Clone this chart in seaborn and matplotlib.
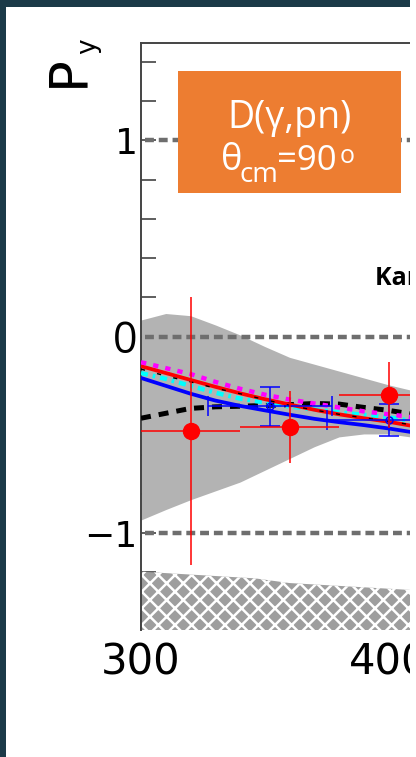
import matplotlib
matplotlib.use("Agg")
import matplotlib.pyplot as plt
from matplotlib.patches import Rectangle
from matplotlib.ticker import FixedLocator, MultipleLocator
import pandas as pd
import seaborn as sns

# ---------------------------------------------------------------- data
# photon energy grid of the model curves (MeV)
energy = [300, 310, 320, 330, 340, 350, 360, 370, 380, 390, 400, 410, 420]
model_red = [-0.15, -0.185, -0.22, -0.255, -0.288, -0.318, -0.345, -0.372, -0.395, -0.415, -0.433, -0.455, -0.475]
model_blue = [-0.21, -0.25, -0.29, -0.325, -0.352, -0.375, -0.397, -0.418, -0.435, -0.45, -0.467, -0.487, -0.505]
model_magenta = [-0.13, -0.16, -0.19, -0.23, -0.265, -0.295, -0.32, -0.34, -0.36, -0.38, -0.395, -0.41, -0.425]
model_cyan = [-0.185, -0.215, -0.25, -0.285, -0.315, -0.335, -0.355, -0.37, -0.385, -0.398, -0.41, -0.43, -0.445]
model_black = [-0.415, -0.39, -0.365, -0.357, -0.354, -0.35, -0.346, -0.34, -0.343, -0.36, -0.375, -0.395, -0.415]
model_thin = [-0.165, -0.2, -0.23, -0.262, -0.29, -0.32, -0.35, -0.373, -0.395, -0.413, -0.43, -0.45, -0.47]

# theoretical uncertainty band
band_upper = [0.085, 0.118, 0.107, 0.06, 0.009, -0.05, -0.105, -0.14, -0.175, -0.21, -0.245, -0.275, -0.30]
band_lower = [-0.933, -0.88, -0.83, -0.785, -0.74, -0.68, -0.62, -0.56, -0.51, -0.495, -0.495, -0.512, -0.53]

# systematic uncertainty (hatched, bottom)
syst_energy = [300, 346, 360, 410, 420]
syst_top = [-1.196, -1.23, -1.254, -1.29, -1.295]

# measured points
red_x = [320, 360, 400]
red_y = [-0.48, -0.46, -0.297]
red_xerr = [20, 20, 20]
red_yerr = [0.68, 0.185, 0.17]

blue_x = [352, 400]
blue_y = [-0.355, -0.423]
blue_xerr = [25, 25]
blue_yerr = [0.10, 0.08]

ref_levels = [1, 0, -1]
ytick_vals = [-1, 0, 1]
ytick_labels = ["\u22121", "0", "1"]
xtick_vals = [300, 400]
xtick_labels = ["300", "400"]

# ---------------------------------------------------------------- figure
W, H = 416, 757
sns.set_theme(style="ticks")
plt.rcParams["font.family"] = ["DejaVu Sans"]
plt.rcParams["hatch.linewidth"] = 1.8
plt.rcParams["hatch.color"] = "white"

fig = plt.figure(figsize=(W / 100, H / 100), dpi=100)
fig.patch.set_facecolor("#1b3a48")


def fx(px):
    return px / W


def fy(py):
    return 1 - py / H


# white slide panel
fig.add_artist(Rectangle((fx(6), 0), fx(416) - fx(6), fy(7), transform=fig.transFigure,
                         facecolor="white", edgecolor="none", zorder=-5))

ax = fig.add_axes([fx(141), fy(630), 297 / W, (630 - 43) / H])
ax.set_facecolor("white")
xmin, xmax = 300, 420
ymin, ymax = -1.493, 1.495
ax.set_xlim(xmin, xmax)
ax.set_ylim(ymin, ymax)

ax.fill_between(energy, band_lower, band_upper, color="#b3b3b3", lw=0, zorder=1)
ax.fill_between(syst_energy, ymin, syst_top, facecolor="#9e9e9e", edgecolor="white",
                hatch="xx", linewidth=0, zorder=1)

for yv in ref_levels:
    ax.axhline(yv, xmin=4 / 297, color="#6e6e6e", lw=3.2, dashes=(2.0, 1.1), zorder=2)

curves = pd.DataFrame({
    "E": energy, "red": model_red, "blue": model_blue, "magenta": model_magenta,
    "cyan": model_cyan, "black": model_black, "thin": model_thin,
})
sns.lineplot(data=curves, x="E", y="black", ax=ax, color="black", lw=3.6,
             linestyle=(0, (2.0, 1.6)), errorbar=None, zorder=3)
sns.lineplot(data=curves, x="E", y="blue", ax=ax, color="#0000ff", lw=2.7, errorbar=None, zorder=3)
sns.lineplot(data=curves, x="E", y="cyan", ax=ax, color="#00ffff", lw=3.2,
             linestyle=(0, (1.6, 1.1, 0.6, 1.1)), errorbar=None, zorder=3)
sns.lineplot(data=curves, x="E", y="red", ax=ax, color="#ff0000", lw=2.7, errorbar=None, zorder=3)
sns.lineplot(data=curves, x="E", y="magenta", ax=ax, color="#ff00ff", lw=3.2,
             linestyle=(0, (1.2, 1.6)), errorbar=None, zorder=3)
sns.lineplot(data=curves, x="E", y="thin", ax=ax, color="black", lw=1.0,
             linestyle=(0, (3, 9)), errorbar=None, zorder=3)

ax.errorbar(blue_x, blue_y, xerr=blue_xerr, yerr=blue_yerr, fmt="o", mfc="none",
            mec="#0000ff", ecolor="#0000ff", ms=5, mew=1.1, elinewidth=1.1,
            capsize=7, capthick=1.1, zorder=5)
ax.errorbar(red_x, red_y, xerr=red_xerr, yerr=red_yerr, fmt="o", color="#ff0000",
            ms=11.5, elinewidth=1.1, capsize=0, zorder=6)

# axes styling
ax.set_xlabel("")
ax.set_ylabel("")
ax.yaxis.set_major_locator(FixedLocator(ytick_vals))
ax.set_yticklabels(ytick_labels)
ax.yaxis.set_minor_locator(MultipleLocator(0.2))
ax.xaxis.set_major_locator(FixedLocator(xtick_vals))
ax.set_xticklabels(xtick_labels)
ax.xaxis.set_minor_locator(MultipleLocator(20))
ax.tick_params(axis="y", which="both", direction="in", length=10.8, width=1.1,
               color="#333333", labelsize=26, pad=2.5, labelcolor="black")
ax.tick_params(axis="x", which="major", direction="in", length=12, width=1.1,
               color="#333333", labelsize=30, pad=8.0, labelcolor="black")
ax.tick_params(axis="x", which="minor", direction="in", length=5, width=1.1, color="#333333")
zero_label = ax.get_yticklabels()[1]
zero_label.set_fontfamily(["Open Sans", "DejaVu Sans"])
zero_label.set_fontsize(31)

for side in ("left", "top"):
    ax.spines[side].set_color("#444444")
    ax.spines[side].set_linewidth(1.4)
ax.spines["right"].set_visible(False)
ax.spines["bottom"].set_visible(False)

# y-axis title P_y
fig.text(fx(83), fy(87), "P", rotation=90, rotation_mode="anchor", ha="left",
         va="baseline", fontsize=38, color="black")
fig.text(fx(95), fy(54), "y", rotation=90, rotation_mode="anchor", ha="left",
         va="baseline", fontsize=19, color="black")

# reaction box
fig.add_artist(Rectangle((fx(178), fy(193)), fx(401) - fx(178), (193 - 71) / H,
                         transform=fig.transFigure, facecolor="#ed7d31",
                         edgecolor="none", zorder=8))
box_font = ["Open Sans", "DejaVu Sans"]
fig.text(fx(289.5), fy(128), "D(\u03b3,pn)", ha="center", va="baseline", color="white",
         fontsize=27, family=box_font, zorder=9)
fig.text(fx(221), fy(170), "\u03b8", ha="left", va="baseline", color="white",
         fontsize=26, family=box_font, zorder=9)
fig.text(fx(240), fy(182), "cm", ha="left", va="baseline", color="white",
         fontsize=20, family=box_font, zorder=9)
fig.text(fx(277), fy(170), "=90", ha="left", va="baseline", color="white",
         fontsize=25, family=box_font, zorder=9)
fig.text(fx(340), fy(163), "o", ha="left", va="baseline", color="white",
         fontsize=18, family=box_font, zorder=9)

fig.text(fx(375), fy(285), "Kang et al.", ha="left", va="baseline", color="black",
         fontsize=18, fontweight="bold", family=box_font, zorder=9)

# blank strip along the right edge
fig.add_artist(Rectangle((fx(410), 0), 1 - fx(410), 1, transform=fig.transFigure,
                         facecolor="white", edgecolor="none", zorder=20))

fig.savefig("out.png", dpi=100, facecolor=fig.get_facecolor())
